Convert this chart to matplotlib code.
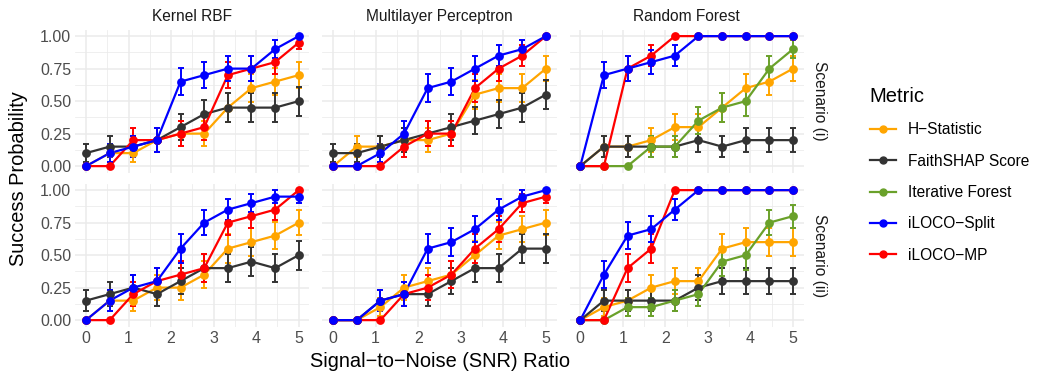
import numpy as np
import matplotlib.pyplot as plt
from matplotlib.lines import Line2D

plt.rcParams['font.family'] = ['Liberation Sans', 'DejaVu Sans']

# SNR 取值（10 个等距点）
snr = [0, 0.556, 1.111, 1.667, 2.222, 2.778, 3.333, 3.889, 4.444, 5]
n_trials = 20

models = ['Kernel RBF', 'Multilayer Perceptron', 'Random Forest']
scenarios = ['Scenario (i)', 'Scenario (ii)']
metrics = ['H\u2212Statistic', 'FaithSHAP Score', 'Iterative Forest', 'iLOCO\u2212Split', 'iLOCO\u2212MP']
colors = {'H\u2212Statistic': '#FFA500', 'FaithSHAP Score': '#333333', 'Iterative Forest': '#6AA12A',
          'iLOCO\u2212Split': '#0000FF', 'iLOCO\u2212MP': '#FF0000'}
draw_order = ['H\u2212Statistic', 'FaithSHAP Score', 'Iterative Forest', 'iLOCO\u2212MP', 'iLOCO\u2212Split']

# Scenario (i)
rbf_i = {
    'H\u2212Statistic': [0, 0.1, 0.1, 0.2, 0.25, 0.25, 0.45, 0.6, 0.65, 0.7],
    'FaithSHAP Score': [0.1, 0.15, 0.15, 0.2, 0.3, 0.4, 0.45, 0.45, 0.45, 0.5],
    'iLOCO\u2212Split': [0, 0.1, 0.15, 0.2, 0.65, 0.7, 0.75, 0.75, 0.9, 1.0],
    'iLOCO\u2212MP': [0, 0, 0.2, 0.2, 0.25, 0.3, 0.7, 0.75, 0.8, 0.95],
}
mlp_i = {
    'H\u2212Statistic': [0, 0.15, 0.15, 0.2, 0.2, 0.25, 0.55, 0.6, 0.6, 0.75],
    'FaithSHAP Score': [0.1, 0.1, 0.15, 0.2, 0.25, 0.3, 0.35, 0.4, 0.45, 0.55],
    'iLOCO\u2212Split': [0, 0, 0.1, 0.25, 0.6, 0.65, 0.75, 0.85, 0.9, 1.0],
    'iLOCO\u2212MP': [0, 0, 0, 0.15, 0.25, 0.25, 0.6, 0.75, 0.85, 1.0],
}
rf_i = {
    'H\u2212Statistic': [0, 0.15, 0.15, 0.2, 0.3, 0.3, 0.45, 0.6, 0.65, 0.75],
    'FaithSHAP Score': [0, 0.15, 0.15, 0.15, 0.15, 0.2, 0.15, 0.2, 0.2, 0.2],
    'Iterative Forest': [0, 0, 0, 0.15, 0.15, 0.35, 0.45, 0.5, 0.75, 0.9],
    'iLOCO\u2212Split': [0, 0.7, 0.75, 0.8, 0.85, 1.0, 1.0, 1.0, 1.0, 1.0],
    'iLOCO\u2212MP': [0, 0, 0.75, 0.85, 1.0, 1.0, 1.0, 1.0, 1.0, 1.0],
}
# Scenario (ii)
rbf_ii = {
    'H\u2212Statistic': [0, 0.15, 0.15, 0.25, 0.25, 0.35, 0.55, 0.6, 0.65, 0.75],
    'FaithSHAP Score': [0.15, 0.2, 0.25, 0.2, 0.3, 0.4, 0.4, 0.45, 0.4, 0.5],
    'iLOCO\u2212Split': [0, 0.15, 0.25, 0.3, 0.55, 0.75, 0.85, 0.9, 0.95, 0.95],
    'iLOCO\u2212MP': [0, 0, 0.2, 0.3, 0.35, 0.4, 0.75, 0.8, 0.85, 1.0],
}
mlp_ii = {
    'H\u2212Statistic': [0, 0, 0.1, 0.25, 0.3, 0.35, 0.5, 0.65, 0.7, 0.75],
    'FaithSHAP Score': [0, 0, 0.15, 0.2, 0.2, 0.3, 0.4, 0.4, 0.55, 0.55],
    'iLOCO\u2212Split': [0, 0, 0.15, 0.2, 0.55, 0.6, 0.7, 0.85, 0.95, 1.0],
    'iLOCO\u2212MP': [0, 0, 0, 0.2, 0.25, 0.35, 0.55, 0.7, 0.9, 0.95],
}
rf_ii = {
    'H\u2212Statistic': [0, 0.1, 0.15, 0.25, 0.3, 0.3, 0.55, 0.6, 0.6, 0.6],
    'FaithSHAP Score': [0, 0.15, 0.15, 0.15, 0.15, 0.25, 0.3, 0.3, 0.3, 0.3],
    'Iterative Forest': [0, 0, 0.1, 0.1, 0.15, 0.2, 0.45, 0.5, 0.75, 0.8],
    'iLOCO\u2212Split': [0, 0.35, 0.65, 0.7, 0.85, 1.0, 1.0, 1.0, 1.0, 1.0],
    'iLOCO\u2212MP': [0, 0, 0.4, 0.55, 1.0, 1.0, 1.0, 1.0, 1.0, 1.0],
}

面板数据 = [[rbf_i, mlp_i, rf_i], [rbf_ii, mlp_ii, rf_ii]]

fig, axes = plt.subplots(2, 3, figsize=(10.41, 3.75), dpi=100, sharex=True, sharey=True)
fig.subplots_adjust(left=0.0724, right=0.772, top=0.921, bottom=0.129, wspace=0.056, hspace=0.077)

x = np.array(snr)
for r in range(2):
    for c in range(3):
        ax = axes[r, c]
        data = 面板数据[r][c]
        for m in draw_order:
            if m not in data:
                continue
            p = np.array(data[m])
            se = np.sqrt(p * (1 - p) / n_trials)
            col = colors[m]
            ax.plot(x, p, color=col, lw=1.6, zorder=3)
            ax.errorbar(x, p, yerr=se, fmt='none', ecolor=col, elinewidth=1.4, capsize=2.2,
                        capthick=1.4, zorder=3)
            ax.scatter(x, p, s=40, color=col, zorder=4, linewidths=0)
        ax.set_xlim(-0.25, 5.25)
        ax.set_ylim(-0.05, 1.05)
        ax.set_xticks([0, 1, 2, 3, 4, 5])
        ax.set_xticks([0.5, 1.5, 2.5, 3.5, 4.5], minor=True)
        ax.set_yticks([0, 0.25, 0.5, 0.75, 1.0])
        ax.set_yticks([0.125, 0.375, 0.625, 0.875], minor=True)
        ax.set_yticklabels(['0.00', '0.25', '0.50', '0.75', '1.00'])
        ax.grid(which='major', color='#EBEBEB', lw=1.1, zorder=0)
        ax.grid(which='minor', color='#EBEBEB', lw=0.55, zorder=0)
        ax.set_axisbelow(True)
        for s in ax.spines.values():
            s.set_visible(False)
        ax.tick_params(which='both', length=0, labelsize=11.5, labelcolor='#4D4D4D', pad=3)
        if r == 0:
            ax.set_title(models[c], fontsize=11.2, color='#1A1A1A', pad=6)
        if c == 2:
            ax.text(1.035, 0.5, scenarios[r], transform=ax.transAxes, rotation=-90,
                    ha='left', va='center', fontsize=11.2, color='#1A1A1A')

fig.text(0.4225, 0.035, 'Signal\u2212to\u2212Noise (SNR) Ratio', ha='center', va='center', fontsize=14.4)
fig.text(0.018, 0.525, 'Success Probability', ha='center', va='center', rotation=90, fontsize=14.4)

handles = [Line2D([0], [0], color=colors[m], lw=1.6, marker='o', markersize=5) for m in metrics]
leg = fig.legend(handles, metrics, loc='upper left', bbox_to_anchor=(0.822, 0.805), frameon=False,
                 title='Metric', fontsize=11.2, title_fontsize=14.5, handlelength=1.7,
                 handletextpad=0.75, labelspacing=1.05, alignment='left')

fig.savefig('out.png', dpi=100)
